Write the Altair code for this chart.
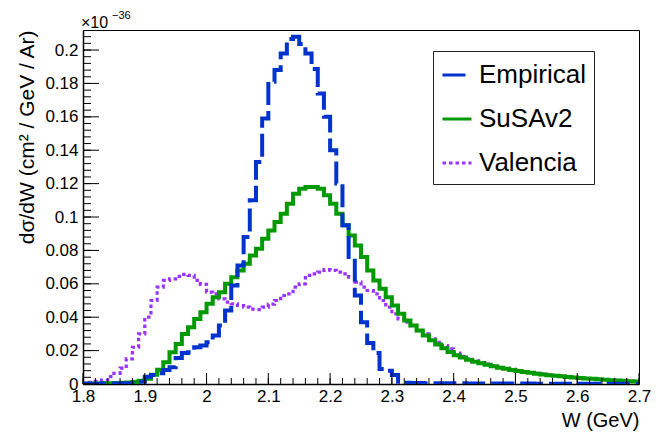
import altair as alt
import pandas as pd

# ---------------- data ----------------
W_START = 1.8
BIN_WIDTH = 0.01
N_BINS = 90

series_names = ["Empirical", "SuSAv2", "Valencia"]
series_colors = ["#0033cc", "#009900", "#9933ff"]
series_dashes = [[23, 6], [1, 0], [3.5, 3]]
series_widths = {"Empirical": 4, "SuSAv2": 4, "Valencia": 3.2}
draw_order = ["Valencia", "SuSAv2", "Empirical"]

empirical = [
    0.0002, 0.0002, 0.0002, 0.0003, 0.0003, 0.0003, 0.0004, 0.0004, 0.0005, 0.0014,
    0.0044, 0.0054, 0.0064, 0.0084, 0.0100, 0.0155, 0.0185, 0.0190, 0.0220, 0.0230,
    0.0250, 0.0290, 0.0350, 0.0440, 0.0590, 0.0710, 0.0880, 0.1100, 0.1330, 0.1590,
    0.1810, 0.1880, 0.1980, 0.2066, 0.2080, 0.2036, 0.1980, 0.1887, 0.1740, 0.1600,
    0.1400, 0.1200, 0.0950, 0.0760, 0.0530, 0.0370, 0.0245, 0.0185, 0.0090, 0.0080,
    0.0054, 0.0014, 0.0008, 0.0006, 0.0006, 0.0005, 0.0005, 0.0005, 0.0004, 0.0004,
    0.0004, 0.0004, 0.0003, 0.0003, 0.0003, 0.0003, 0.0003, 0.0003, 0.0003, 0.0003,
    0.0003, 0.0003, 0.0003, 0.0002, 0.0002, 0.0002, 0.0002, 0.0002, 0.0002, 0.0002,
    0.0002, 0.0002, 0.0002, 0.0002, 0.0001, 0.0001, 0.0001, 0.0001, 0.0001, 0.0001,
]

susav2 = [
    0.0002, 0.0003, 0.0003, 0.0004, 0.0005, 0.0006, 0.0007, 0.0009, 0.0012, 0.0020,
    0.0032, 0.0055, 0.0085, 0.0130, 0.0190, 0.0240, 0.0300, 0.0340, 0.0390, 0.0430,
    0.0480, 0.0520, 0.0550, 0.0600, 0.0640, 0.0680, 0.0720, 0.0770, 0.0810, 0.0870,
    0.0920, 0.0970, 0.1020, 0.1080, 0.1140, 0.1170, 0.1180, 0.1180, 0.1170, 0.1130,
    0.1080, 0.1020, 0.0950, 0.0890, 0.0830, 0.0760, 0.0680, 0.0620, 0.0570, 0.0520,
    0.0470, 0.0420, 0.0380, 0.0350, 0.0320, 0.0290, 0.0262, 0.0237, 0.0214, 0.0192,
    0.0172, 0.0158, 0.0145, 0.0134, 0.0124, 0.0115, 0.0106, 0.0098, 0.0091, 0.0084,
    0.0078, 0.0072, 0.0067, 0.0062, 0.0057, 0.0053, 0.0049, 0.0046, 0.0042, 0.0039,
    0.0036, 0.0033, 0.0031, 0.0028, 0.0026, 0.0023, 0.0021, 0.0019, 0.0017, 0.0015,
]

valencia = [
    0.0005, 0.0010, 0.0016, 0.0024, 0.0044, 0.0064, 0.0095, 0.0150, 0.0220, 0.0300,
    0.0400, 0.0500, 0.0580, 0.0620, 0.0630, 0.0645, 0.0657, 0.0650, 0.0620, 0.0597,
    0.0550, 0.0540, 0.0510, 0.0490, 0.0480, 0.0470, 0.0460, 0.0448, 0.0446, 0.0460,
    0.0478, 0.0500, 0.0530, 0.0540, 0.0580, 0.0600, 0.0650, 0.0660, 0.0670, 0.0685,
    0.0680, 0.0670, 0.0660, 0.0640, 0.0610, 0.0580, 0.0560, 0.0540, 0.0500, 0.0460,
    0.0420, 0.0390, 0.0370, 0.0350, 0.0320, 0.0300, 0.0270, 0.0250, 0.0230, 0.0210,
    0.0185, 0.0165, 0.0150, 0.0139, 0.0128, 0.0119, 0.0109, 0.0101, 0.0094, 0.0087,
    0.0080, 0.0074, 0.0069, 0.0064, 0.0059, 0.0055, 0.0051, 0.0047, 0.0044, 0.0040,
    0.0037, 0.0034, 0.0032, 0.0029, 0.0027, 0.0024, 0.0022, 0.0020, 0.0018, 0.0016,
]

x_major_ticks = [1.8, 1.9, 2.0, 2.1, 2.2, 2.3, 2.4, 2.5, 2.6, 2.7]
y_major_ticks = [0.0, 0.02, 0.04, 0.06, 0.08, 0.1, 0.12, 0.14, 0.16, 0.18, 0.2]
x_minor_ticks = [round(1.8 + 0.02 * i, 3) for i in range(46)]
y_minor_ticks = [round(0.004 * i, 4) for i in range(53)]

X_DOMAIN = [1.8, 2.7]
Y_DOMAIN = [0, 0.212]
FONT = "Liberation Sans"
X_TITLE = "W (GeV)"
Y_TITLE = "dσ/dW (cm² / GeV / Ar)"

# ---------------- tables ----------------
values_by_series = {"Empirical": empirical, "SuSAv2": susav2, "Valencia": valencia}
rows = []
for name, vals in values_by_series.items():
    for i, v in enumerate(vals):
        rows.append({"W": round(W_START + BIN_WIDTH * i, 3), "v": v, "series": name})
    rows.append({"W": round(W_START + BIN_WIDTH * N_BINS, 3), "v": vals[-1], "series": name})
df = pd.DataFrame(rows)

xmaj = pd.DataFrame({"W": x_major_ticks})
xmin = pd.DataFrame({"W": x_minor_ticks})
ymaj = pd.DataFrame({"v": y_major_ticks})
ymin = pd.DataFrame({"v": y_minor_ticks})

x_scale = alt.Scale(domain=X_DOMAIN, nice=False, zero=False)
y_scale = alt.Scale(domain=Y_DOMAIN, nice=False, zero=True)

legend = alt.Legend(
    title=None, orient="none", legendX=350, legendY=21,
    labelFontSize=26, labelFont=FONT, labelColor="black", labelLimit=300,
    symbolType="stroke", symbolSize=841, symbolStrokeWidth=3,
    rowPadding=15, padding=8, labelOffset=6,
    strokeColor="#222222", fillColor="white", cornerRadius=0,
)

x_axis = alt.Axis(
    values=x_major_ticks, format="~g", title=X_TITLE, titleAnchor="end",
    titlePadding=6, labelPadding=4, ticks=False, grid=False,
    labelFlush=False, labelOverlap=False,
)
y_axis = alt.Axis(
    values=y_major_ticks, format="~g", title=Y_TITLE, titleAnchor="end",
    titlePadding=7, labelPadding=5, ticks=False, grid=False,
    labelFlush=False, labelOverlap=False, titleFontSize=21,
)

X = alt.X("W:Q", scale=x_scale, axis=x_axis, title=X_TITLE)
Y = alt.Y("v:Q", scale=y_scale, axis=y_axis, title=Y_TITLE)

layers = []
for name in draw_order:
    layers.append(
        alt.Chart(df)
        .transform_filter(alt.datum.series == name)
        .mark_line(interpolate="step-after", strokeWidth=series_widths[name], clip=True, strokeCap="butt")
        .encode(
            x=X, y=Y,
            color=alt.Color("series:N", scale=alt.Scale(domain=series_names, range=series_colors), legend=legend),
            strokeDash=alt.StrokeDash("series:N", scale=alt.Scale(domain=series_names, range=series_dashes), legend=legend),
        )
    )

PLOT_H = 354
tick_x_major = alt.Chart(xmaj).mark_rule(color="black", strokeWidth=1).encode(
    x=X, y=alt.value(PLOT_H), y2=alt.value(PLOT_H - 11))
tick_x_minor = alt.Chart(xmin).mark_rule(color="black", strokeWidth=1).encode(
    x=X, y=alt.value(PLOT_H), y2=alt.value(PLOT_H - 6))
tick_y_major = alt.Chart(ymaj).mark_rule(color="black", strokeWidth=1).encode(
    y=Y, x=alt.value(0), x2=alt.value(16))
tick_y_minor = alt.Chart(ymin).mark_rule(color="black", strokeWidth=1).encode(
    y=Y, x=alt.value(0), x2=alt.value(8))

exp_main = alt.Chart(pd.DataFrame({"s": ["×10"]})).mark_text(
    align="left", baseline="alphabetic", fontSize=16, font=FONT, color="black"
).encode(text="s:N", x=alt.value(-2), y=alt.value(-2))
exp_sup = alt.Chart(pd.DataFrame({"s": ["−36"]})).mark_text(
    align="left", baseline="alphabetic", fontSize=11, font=FONT, color="black"
).encode(text="s:N", x=alt.value(29), y=alt.value(-11))

chart = (
    alt.layer(*layers, tick_x_minor, tick_x_major, tick_y_minor, tick_y_major, exp_main, exp_sup)
    .properties(
        width=556, height=PLOT_H,
        autosize=alt.AutoSizeParams(type="none"),
        padding={"left": 83, "top": 30, "right": 23, "bottom": 50},
        background="white",
    )
    .configure_view(stroke="black", strokeWidth=1)
    .configure_axis(
        labelFont=FONT, labelFontSize=17, labelColor="black",
        titleFont=FONT, titleFontSize=20, titleFontWeight="normal", titleColor="black",
        domainColor="black", domainWidth=1.5,
    )
)

chart.save("out.html", embed_options={"renderer": "svg", "actions": False})
